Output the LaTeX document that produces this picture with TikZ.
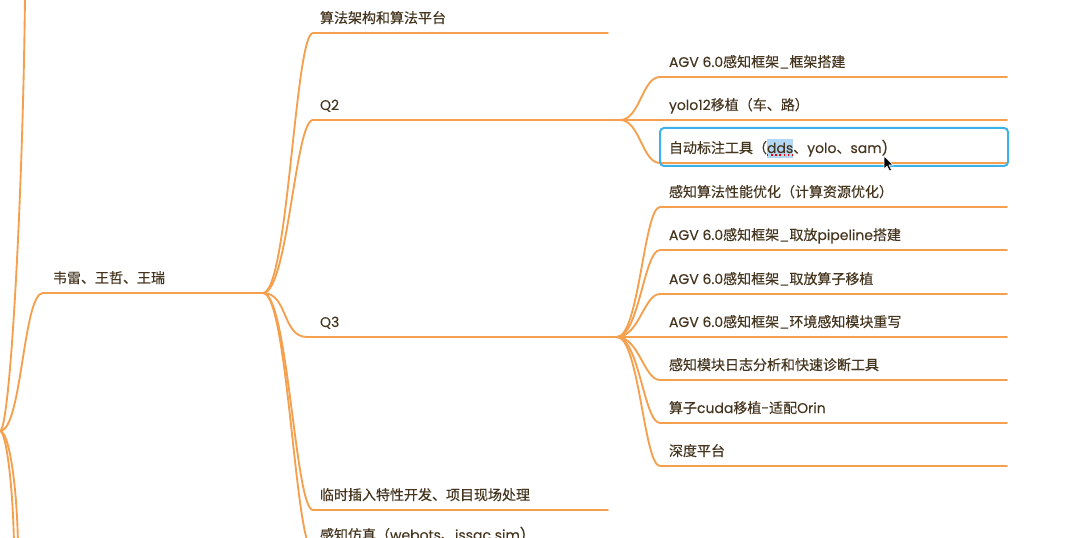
\documentclass[tikz,border=0pt]{standalone}
\usepackage{fontspec}
\setmainfont{Poppins}[FakeBold=0.3]
\newfontfamily\cjk{Noto Sans CJK SC}[FakeBold=0.4]
\newcommand\zh[1]{{\cjk #1}}
\usetikzlibrary{positioning}
\definecolor{branch}{HTML}{F5A04E}
\definecolor{ink}{HTML}{45351F}
\definecolor{pickblue}{HTML}{3DB2EA}
\definecolor{ddshl}{HTML}{B3D8F6}
\tikzset{
	edge/.style={draw=branch,line width=1.4pt,line cap=round},
	lbl/.style={anchor=base west,inner sep=0pt,outer sep=0pt,text=ink,font=\fontsize{10.5}{12}\selectfont},
}

\begin{document}
\begin{tikzpicture}[x=0.75pt,y=-0.75pt]
		\useasboundingbox (0,0) rectangle (1066,538);
		\clip (0,0) rectangle (1066,538);
		\path
		(0,431) coordinate (R)
		(263,293) coordinate (P)
		(620,120) coordinate (Q2)
		(617,337) coordinate (Q3);
		\draw[edge] (R) .. controls +(10,0) and +(-2,200) .. (25,-5);
		\draw[edge] (R) .. controls +(6,0) and +(-1,-60) .. (14,545);
		\draw[edge] (R) .. controls +(9,0) and +(-1,-60) .. (18,545);
		\draw[edge] (R) .. controls +(22,0) and +(-20,0) .. (43,293) coordinate (W) -- (P);
		\node[lbl] (wl) at (53,283) {\zh{韦雷、王哲、王瑞}};
		\foreach \y/\t [count=\i] in {33/{\zh{算法架构和算法平台}},510/{\zh{临时插入特性开发、项目现场处理}},550/{\zh{感知仿真（}webots\zh{、}issac sim)}} {
			\draw[edge] (P) .. controls +(25,0) and +(-18,0) .. (313,\y) coordinate (s\i) -- (608,\y);
			\node[lbl] (sl\i) at (320,{\y-10}) {\t};
		}
		\draw[edge] (P) .. controls +(25,0) and +(-18,0) .. (313,120) coordinate (a2) -- (Q2);
		\node[lbl] (q2) at (320,110) {Q2};
		\draw[edge] (P) .. controls +(25,0) and +(-25,0) .. (307,337) coordinate (a3) -- (Q3);
		\node[lbl] (q3) at (320,327) {Q3};
		\foreach \y/\t [count=\i] in {77/{AGV 6.0\zh{感知框架}\_\zh{框架搭建}},120/{yolo12\zh{移植（车、路）}},163/{}} {
			\draw[edge] (Q2) .. controls +(20,0) and +(-18,0) .. (660,\y) coordinate (b\i) -- (1007,\y);
			\node[lbl] (bl\i) at (669,{\y-10}) {\t};
		}
		\foreach \y/\t [count=\i] in {
			207/{\zh{感知算法性能优化（计算资源优化）}},
			250/{AGV 6.0\zh{感知框架}\_\zh{取放}pipeline\zh{搭建}},
			294/{AGV 6.0\zh{感知框架}\_\zh{取放算子移植}},
			337/{AGV 6.0\zh{感知框架}\_\zh{环境感知模块重写}},
			380/{\zh{感知模块日志分析和快速诊断工具}},
			423/{\zh{算子}cuda\zh{移植}-\zh{适配}Orin},
			466/{\zh{深度平台}}} {
			\draw[edge] (Q3) .. controls +(22,0) and +(-16,0) .. (660,\y) coordinate (c\i) -- (1007,\y);
			\node[lbl] (cl\i) at (669,{\y-10}) {\t};
		}
		\node[lbl] (tool) at (669,153) {\zh{自动标注工具（}};
		\node[lbl,fill=ddshl,text height=10.5pt,text depth=3.5pt,right=0pt of tool.base east,anchor=base west] (dds) {dds};
		\node[lbl,right=0pt of dds.base east,anchor=base west] (rest) {\zh{、}yolo\zh{、}sam)};
		\draw[red,dotted,line width=1.1pt] ([yshift=-1.5pt]dds.base west) -- ([yshift=-1.5pt]dds.base east);
		\draw[pickblue,line width=1.5pt,rounded corners=3pt] (660,128) rectangle (1008,166);
		\draw[fill=black,draw=white,line width=0.4pt] (884,156) -- ++(0,13) -- ++(3,-3) -- ++(2.5,5) -- ++(2,-1) -- ++(-2.5,-5) -- ++(4,0) -- cycle;
	\end{tikzpicture}
\end{document}
